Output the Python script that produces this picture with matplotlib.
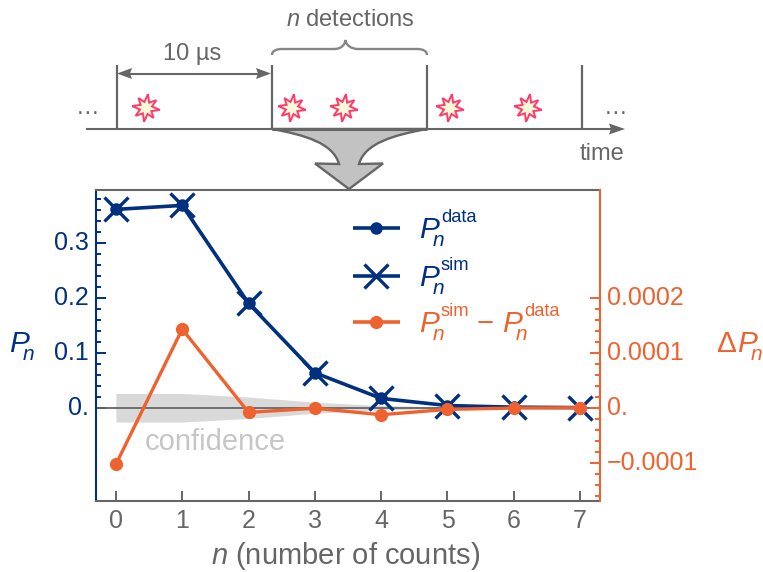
import numpy as np
import matplotlib
matplotlib.use('Agg')
import matplotlib.pyplot as plt
from matplotlib.patches import Polygon, PathPatch
from matplotlib.path import Path
from matplotlib.ticker import FixedLocator
from matplotlib.transforms import ScaledTranslation

plt.rcParams['font.family'] = ['Liberation Sans', 'DejaVu Sans']
plt.rcParams['mathtext.fontset'] = 'custom'
plt.rcParams['mathtext.rm'] = 'Liberation Sans'
plt.rcParams['mathtext.it'] = 'Liberation Sans:italic'
plt.rcParams['mathtext.bf'] = 'Liberation Sans:bold'

NAVY = '#00307F'
ORANGE = '#EE6230'
GRAY = '#666666'
BAND = '#D9D9D9'

counts = [0, 1, 2, 3, 4, 5, 6, 7]
p_data = [0.3607, 0.3680, 0.1900, 0.0636, 0.0170, 0.0040, 0.0010, 0.0002]
p_sim = [0.3606, 0.3681, 0.1900, 0.0636, 0.0170, 0.0040, 0.0010, 0.0002]
delta_p = [-0.000103, 0.000143, -0.0000084, -0.000001, -0.0000127, -0.000003, -0.0000005, 0.0]
conf_half = [0.000026, 0.000026, 0.0000195, 0.00001, 0.000004, 0.0000015, 0.0000005, 0.0000002]

left_major = [0.0, 0.1, 0.2, 0.3]
left_labels = ['0.', '0.1', '0.2', '0.3']
left_minor = [0.02, 0.04, 0.06, 0.08, 0.12, 0.14, 0.16, 0.18, 0.22, 0.24, 0.26, 0.28, 0.32, 0.34, 0.36, 0.38]
right_major = [-0.0001, 0.0, 0.0001, 0.0002]
right_labels = ['\u22120.0001', '0.', '0.0001', '0.0002']
right_minor = [-0.00016, -0.00014, -0.00012, -0.00008, -0.00006, -0.00004, -0.00002,
               0.00002, 0.00004, 0.00006, 0.00008, 0.00012, 0.00014, 0.00016, 0.00018]

# schematic, in pixels of the figure
pulse_x = [116.5, 272, 427, 582]
star_x = [146, 292, 344, 450, 528]
star_r = [14, 6.2, 13, 6.2, 14, 6.2, 12.5, 6.2, 14, 6.2, 13, 6.2, 14, 6.2, 12.5, 6.2]

W, H = 763, 572
fig = plt.figure(figsize=(W / 100, H / 100), dpi=100)
ax = fig.add_axes((96 / W, (H - 501) / H, 504 / W, 311 / H))
ax2 = ax.twinx()

ax.set_xlim(-0.30, 7.30)
ax.set_ylim(-0.1696, 0.396)
ax2.set_ylim(-0.0001696, 0.000396)

lo = [-c for c in conf_half]
ax.fill_between(counts, lo, conf_half, color=BAND, lw=0, transform=ax2.transData, zorder=1)
ax.axhline(0, color=GRAY, lw=1.3, zorder=2)
ax.plot(counts, p_data, color=NAVY, lw=2.6, marker='o', ms=9, mew=0, zorder=3)
ax.plot(counts, p_sim, color=NAVY, lw=0, marker='x', ms=17, mew=2.4, zorder=3)
ax2.plot(counts, delta_p, color=ORANGE, lw=2.4, marker='o', ms=9.5, mew=0, zorder=4)

ax.text(1.5, -0.062, 'confidence', color='#C6C6C6', fontsize=21, ha='center', va='center', zorder=2)

for name, sp in ax.spines.items():
    sp.set_linewidth(1.5)
    sp.set_color(GRAY)
ax.spines['left'].set_color(NAVY)
ax2.spines['left'].set_visible(False)
ax2.spines['top'].set_visible(False)
ax2.spines['bottom'].set_visible(False)
ax2.spines['right'].set_color(ORANGE)
ax2.spines['right'].set_linewidth(1.5)
ax.spines['right'].set_visible(False)

ax.set_xticks(counts)
ax.tick_params(axis='x', direction='in', length=7.2, width=1.4, color=GRAY, labelcolor=GRAY,
               labelsize=18, pad=5.5)
ax.set_yticks(left_major)
ax.set_yticklabels(left_labels)
ax.yaxis.set_minor_locator(FixedLocator(left_minor))
ax.tick_params(axis='y', which='major', direction='in', length=7.2, width=1.4, color=NAVY,
               labelcolor=NAVY, labelsize=18, pad=5)
ax.tick_params(axis='y', which='minor', direction='in', length=3.6, width=1.4, color=NAVY)

ax2.set_yticks(right_major)
ax2.set_yticklabels(right_labels)
ax2.yaxis.set_minor_locator(FixedLocator(right_minor))
ax2.tick_params(axis='y', which='major', direction='in', length=7.2, width=1.4, color=ORANGE,
                labelcolor=ORANGE, labelsize=18, pad=5)
ax2.tick_params(axis='y', which='minor', direction='in', length=3.6, width=1.4, color=ORANGE)

# y tick labels sit a little above their ticks
up = ScaledTranslation(0, 2.5 / 100, fig.dpi_scale_trans)
for lab in ax.get_yticklabels() + ax2.get_yticklabels():
    lab.set_transform(lab.get_transform() + up)

# overlay for the schematic, legend and outer labels
ov = fig.add_axes((0, 0, 1, 1), zorder=10)
ov.set_xlim(0, W)
ov.set_ylim(H, 0)
ov.axis('off')
ov.patch.set_alpha(0)


def pn(x, base, sup, color):
    ov.text(x, base, 'P', color=color, fontsize=21.5, style='italic', va='baseline')
    ov.text(x + 13.5, base + 8, 'n', color=color, fontsize=15, style='italic', va='baseline')
    if sup:
        ov.text(x + 22, base - 16, sup, color=color, fontsize=13.2, va='baseline')


# funnel arrow
funnel = Path(
    [(272, 129), (305, 135), (333, 143), (339, 164), (315, 163.5), (349, 189), (383, 163.5),
     (359, 164), (365, 143), (394, 135), (427, 129), (272, 129)],
    [Path.MOVETO, Path.CURVE4, Path.CURVE4, Path.CURVE4, Path.LINETO, Path.LINETO, Path.LINETO,
     Path.LINETO, Path.CURVE4, Path.CURVE4, Path.CURVE4, Path.CLOSEPOLY])
ov.add_patch(PathPatch(funnel, fc='#C2C2C2', ec=GRAY, lw=1.7, joinstyle='miter'))

# time line
ov.plot([86, 612], [129, 129], color=GRAY, lw=1.5, solid_capstyle='butt')
ov.plot([272, 427], [129, 129], color=GRAY, lw=2.2, solid_capstyle='butt')
ov.add_patch(Polygon([(625, 129), (609, 123.5), (611, 129), (609, 134.5)], fc=GRAY, ec='none'))
for x in pulse_x:
    ov.plot([x, x], [65, 129], color=GRAY, lw=1.6, solid_capstyle='butt')

# 10 us arrow
ov.plot([122, 266], [73.5, 73.5], color=GRAY, lw=1.5)
ov.add_patch(Polygon([(117, 73.5), (132, 68), (130, 73.5), (132, 79)], fc=GRAY, ec='none'))
ov.add_patch(Polygon([(271, 73.5), (256, 68), (258, 73.5), (256, 79)], fc=GRAY, ec='none'))

# brace
brace = Path(
    [(272, 55), (272, 51), (276, 49), (282, 49), (334, 49), (341, 49), (345, 45), (345.5, 40),
     (346, 45), (351, 49), (358, 49), (417, 49), (423, 49), (427, 51), (427, 55)],
    [Path.MOVETO, Path.CURVE4, Path.CURVE4, Path.CURVE4, Path.LINETO, Path.CURVE4, Path.CURVE4,
     Path.CURVE4, Path.CURVE4, Path.CURVE4, Path.CURVE4, Path.LINETO, Path.CURVE4, Path.CURVE4,
     Path.CURVE4])
ov.add_patch(PathPatch(brace, fc='none', ec='#858585', lw=1.7))

# stars
angles = np.deg2rad(np.arange(16) * 22.5 + 8)
for x in star_x:
    pts = [(x + r * np.sin(a), 108 - r * np.cos(a)) for r, a in zip(star_r, angles)]
    ov.add_patch(Polygon(pts, fc='#F8FBD8', ec='#FF3B6C', lw=1.4, joinstyle='miter'))

ov.text(192, 60, '10 \u00b5s', color=GRAY, fontsize=17, ha='center', va='baseline')
ov.text(350, 26.5, r'$n$ detections', color=GRAY, fontsize=17, ha='center', va='baseline')
ov.text(602.5, 160, 'time', color=GRAY, fontsize=17, ha='center', va='baseline')
ov.text(88, 114, '\u2026', color=GRAY, fontsize=17, ha='center', va='baseline')
ov.text(615.5, 114, '\u2026', color=GRAY, fontsize=17, ha='center', va='baseline')

# legend
leg_y = [228, 276, 322]
ov.plot([353, 400], [leg_y[0]] * 2, color=NAVY, lw=2.6, solid_capstyle='butt')
ov.plot([376], [leg_y[0]], color=NAVY, marker='o', ms=9, mew=0)
ov.plot([353, 400], [leg_y[1]] * 2, color=NAVY, lw=2.6, solid_capstyle='butt')
ov.plot([376], [leg_y[1]], color=NAVY, marker='x', ms=17, mew=2.4)
ov.plot([353, 400], [leg_y[2]] * 2, color=ORANGE, lw=2.6, solid_capstyle='butt')
ov.plot([376], [leg_y[2]], color=ORANGE, marker='o', ms=9.5, mew=0)
pn(419, 238, 'data', NAVY)
pn(419, 286, 'sim', NAVY)
pn(419, 332, 'sim', ORANGE)
ov.text(477, 332, '\u2212', color=ORANGE, fontsize=21, va='baseline')
pn(502, 332, 'data', ORANGE)

# outer labels
pn(9, 352, None, NAVY)
ov.text(716, 352, '\u0394', color=ORANGE, fontsize=21.5, va='baseline')
pn(737, 352, None, ORANGE)
ov.text(346, 564, r'$n$ (number of counts)', color=GRAY, fontsize=21, ha='center', va='baseline')

fig.savefig('out.png', dpi=100)
